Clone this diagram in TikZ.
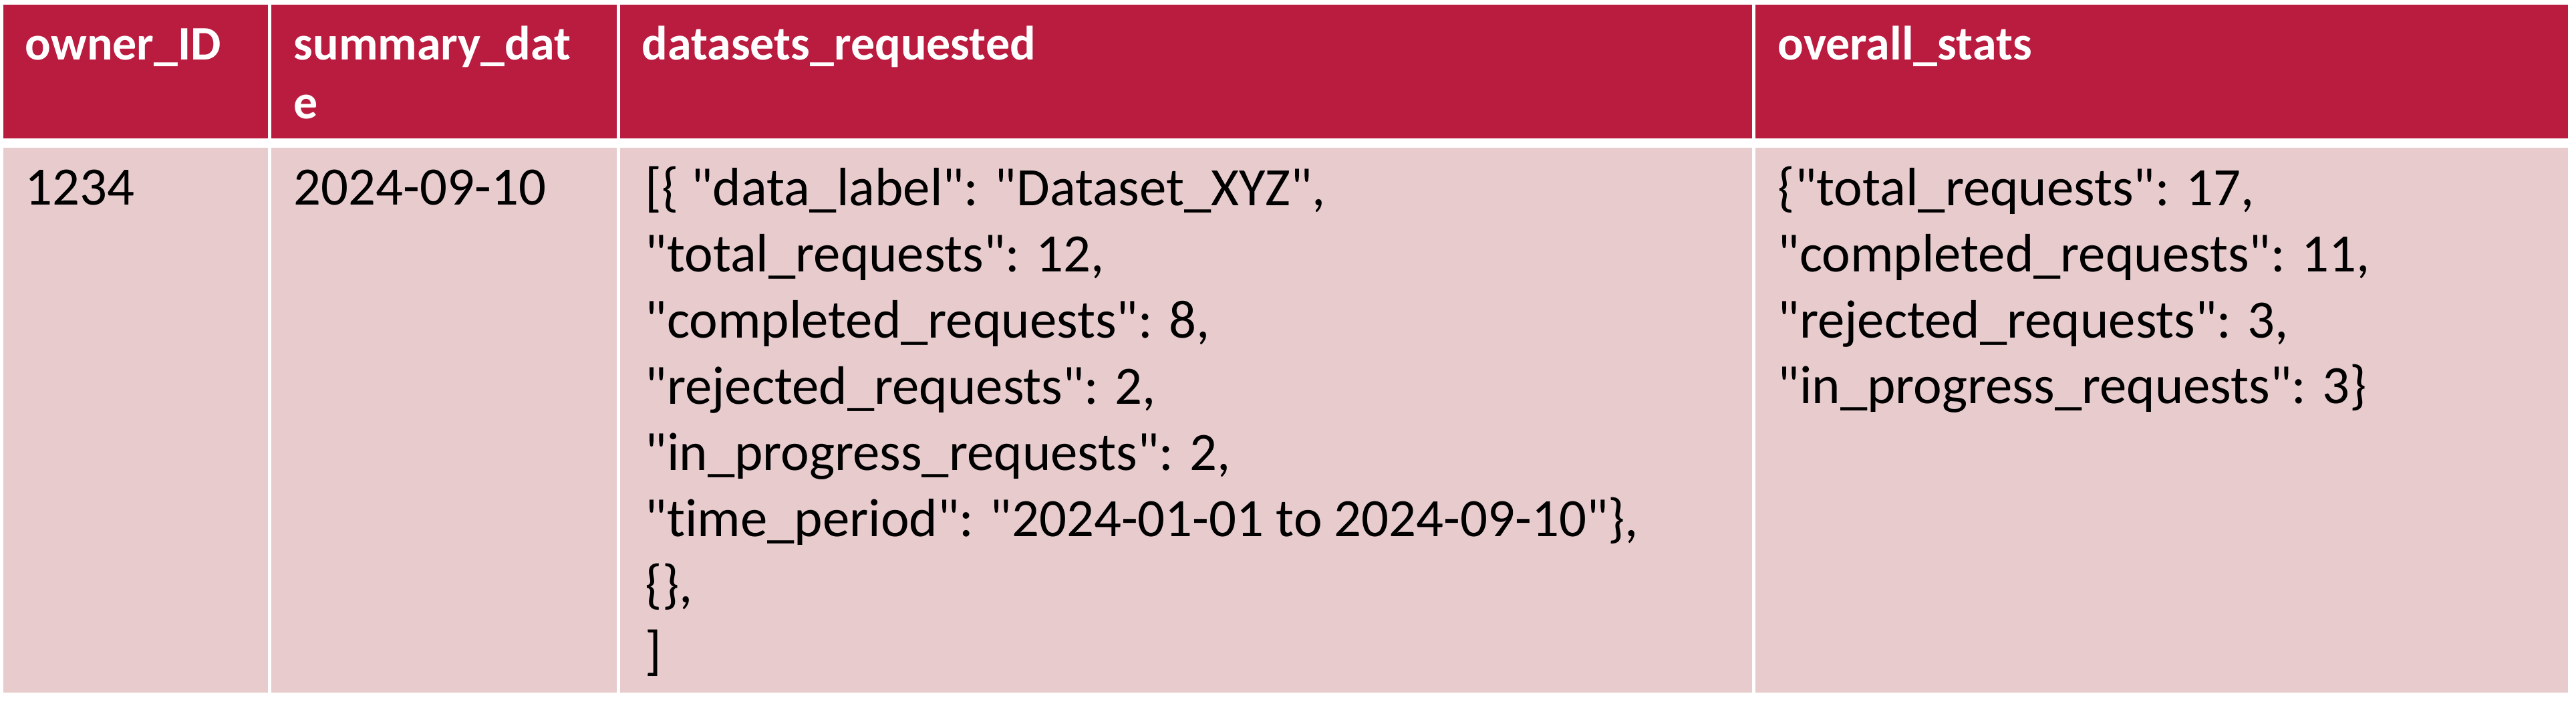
\documentclass[tikz,border=0pt]{standalone}
\usepackage{fontspec}
\setmainfont{Carlito}[Ligatures={TeXOff,NoCommon}]
\definecolor{headred}{RGB}{186,28,64}
\definecolor{bodypink}{RGB}{231,203,205}
\begin{document}
\begin{tikzpicture}[
    headtext/.style={anchor=base west, inner sep=0pt, align=left, text=white,
        font=\fontsize{20.5}{25.2}\selectfont\bfseries},
    celltext/.style={anchor=base west, inner sep=0pt, align=left, text=black,
        font=\fontsize{23}{28.15}\selectfont}
    ]
    \useasboundingbox (0,0) rectangle (38.55,10.73);
    % header row
    \fill[headred] (0.05,8.66) rectangle (4.01,10.66);
    \fill[headred] (4.06,8.66) rectangle (9.23,10.66);
    \fill[headred] (9.28,8.66) rectangle (26.22,10.66);
    \fill[headred] (26.27,8.66) rectangle (38.43,10.66);
    % body row
    \fill[bodypink] (0.05,0.37) rectangle (4.01,8.52);
    \fill[bodypink] (4.06,0.37) rectangle (9.23,8.52);
    \fill[bodypink] (9.28,0.37) rectangle (26.22,8.52);
    \fill[bodypink] (26.27,0.37) rectangle (38.43,8.52);

    % base = baseline of the last line
    \node[headtext] (ownerID) at (0.37,9.83) {owner\_ID};
    \node[headtext] (summaryDate) at (4.39,8.95) {summary\_dat\\e};
    \node[headtext] (datasetsReq) at (9.60,9.83) {datasets\_requested};
    \node[headtext] (overallStats) at (26.60,9.83) {overall\_stats};

    \node[celltext] (ownerVal) at (0.37,7.66) {1234};
    \node[celltext] (dateVal) at (4.39,7.66) {2024-09-10};
    \node[celltext] (datasetsVal) at (9.65,0.73) {[\{ "data\_label": "Dataset\_XYZ",\\
        "total\_requests": 12,\\
        "completed\_requests": 8,\\
        "rejected\_requests": 2,\\
        "in\_progress\_requests": 2,\\
        "time\_period": "2024-01-01 to 2024-09-10"\},\\
        \{\},\\
        ]};
    \node[celltext] (statsVal) at (26.60,4.69) {\{"total\_requests": 17,\\
        "completed\_requests": 11,\\
        "rejected\_requests": 3,\\
        "in\_progress\_requests": 3\}};
\end{tikzpicture}
\end{document}
